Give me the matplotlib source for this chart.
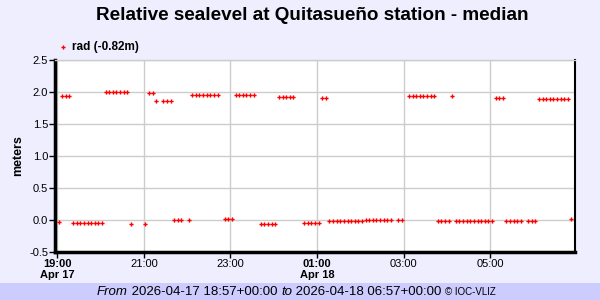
import matplotlib.pyplot as plt
import matplotlib.dates as mdates
from matplotlib.lines import Line2D
from matplotlib.patches import Rectangle
import numpy as np
from datetime import datetime, timedelta

plt.rcParams['font.family'] = ['Liberation Sans', 'DejaVu Sans']

# data: minutes after 2026-04-17 18:57 UTC and sea level (m)
start = datetime(2026, 4, 17, 18, 57)
end = datetime(2026, 4, 18, 6, 57)

minutes = [5, 10, 15, 20,
           25, 30, 35, 40, 45, 50, 55, 60, 65,
           70, 75, 80, 85, 90, 95, 100,
           105, 125, 130, 135, 140, 150, 155, 160,
           165, 170, 175, 185,
           190, 195, 200, 205, 210, 215, 220, 225,
           235, 240, 245,
           250, 255, 260, 265, 270, 275,
           285, 290, 295, 300, 305,
           310, 315, 320, 325, 330,
           345, 350, 355, 360, 365,
           370, 375,
           380, 385, 390, 395, 400, 405, 410, 415, 420, 425,
           430, 435, 440, 445, 450, 455, 460, 465,
           475, 480,
           490, 495, 500, 505, 510, 515, 520, 525,
           530, 535, 540, 545,
           550,
           555, 560, 565, 570, 575, 580, 585, 590, 595, 600, 605,
           610, 615, 620,
           625, 630, 635, 640, 645,
           655, 660, 665,
           670, 675, 680, 685, 690, 695, 700, 705, 710,
           715]
level = [-0.03, 1.94, 1.94, 1.94,
         -0.05, -0.05, -0.05, -0.05, -0.05, -0.05, -0.05, -0.05, -0.05,
         2.00, 2.00, 2.00, 2.00, 2.00, 2.00, 2.00,
         -0.06, -0.06, 1.98, 1.98, 1.86, 1.86, 1.86, 1.86,
         0.00, 0.00, 0.00, 0.00,
         1.95, 1.95, 1.95, 1.95, 1.95, 1.95, 1.95, 1.95,
         0.02, 0.02, 0.02,
         1.95, 1.95, 1.95, 1.95, 1.95, 1.95,
         -0.06, -0.06, -0.06, -0.06, -0.06,
         1.92, 1.92, 1.92, 1.92, 1.92,
         -0.05, -0.05, -0.05, -0.05, -0.05,
         1.91, 1.91,
         -0.02, -0.02, -0.02, -0.02, -0.02, -0.02, -0.02, -0.02, -0.02, -0.02,
         0.00, 0.00, 0.00, 0.00, 0.00, 0.00, 0.00, 0.00,
         0.00, 0.00,
         1.94, 1.94, 1.94, 1.94, 1.94, 1.94, 1.94, 1.94,
         -0.02, -0.02, -0.02, -0.02,
         1.94,
         -0.02, -0.02, -0.02, -0.02, -0.02, -0.02, -0.02, -0.02, -0.02, -0.02, -0.02,
         1.91, 1.91, 1.91,
         -0.02, -0.02, -0.02, -0.02, -0.02,
         -0.02, -0.02, -0.02,
         1.89, 1.89, 1.89, 1.89, 1.89, 1.89, 1.89, 1.89, 1.89,
         0.02]

tick_hours = [(17, 19), (17, 21), (17, 23), (18, 1), (18, 3), (18, 5)]
tick_labels = ['19:00\nApr 17', '21:00', '23:00', '01:00\nApr 18', '03:00', '05:00']
yticks = [-0.5, 0.0, 0.5, 1.0, 1.5, 2.0, 2.5]

times = [start + timedelta(minutes=m) for m in minutes]

fig = plt.figure(figsize=(6, 3), dpi=100, facecolor='#eeeeff')
fig.add_artist(Rectangle((0, 0), 1, 17 / 300, transform=fig.transFigure,
                         facecolor='#ccccff', edgecolor='none', zorder=0))

ax = fig.add_axes([55 / 600, 48 / 300, 520 / 600, 192 / 300])
ax.set_facecolor('white')
ax.plot(times, level, ls='none', marker='P', ms=3, color='red', mec='none', zorder=3)

ax.set_xlim(start, end)
ax.set_ylim(-0.5, 2.5)
ax.set_yticks(yticks)
ax.set_yticklabels(['%.1f' % v for v in yticks], fontsize=8)
ax.set_xticks([datetime(2026, 4, d, h) for d, h in tick_hours])
ax.set_xticklabels(tick_labels, fontsize=8, linespacing=1.1, va='top')
for i, lab in enumerate(ax.get_xticklabels()):
    if i in (0, 3):
        lab.set_fontweight('bold')
ax.tick_params(length=4, width=1, pad=1, colors='black')
ax.grid(color='#cccccc', lw=1)
ax.set_axisbelow(True)

ax.spines['left'].set_linewidth(2.5)
ax.spines['bottom'].set_linewidth(2.5)
ax.spines['right'].set_linewidth(1.5)
ax.spines['top'].set_linewidth(1)
ax.spines['top'].set_color('#cccccc')

ax.set_ylabel('meters', fontsize=9, fontweight='bold')
ax.yaxis.set_label_coords(-(55 - 24) / 520, 0.5)

fig.text(0.52, 1 - 15 / 300, 'Relative sealevel at Quitasueño station - median',
         ha='center', va='center', fontsize=13.6, fontweight='bold')

# legend
fig.add_artist(Line2D([63 / 600], [1 - 47 / 300], marker='P', ms=3, color='red',
                      mec='none', ls='none', transform=fig.transFigure))
fig.text(72 / 600, 1 - 47 / 300, 'rad (-0.82m)', ha='left', va='center',
         fontsize=8.5, fontweight='bold')

# footer
t1 = fig.text(97 / 600, 8 / 300, 'From', fontsize=9.5, style='italic', ha='left', va='center')
t2 = ax.annotate(' 2026-04-17 18:57+00:00 ', xy=(1, 0.5), xycoords=t1, va='center',
                 ha='left', fontsize=9.5, annotation_clip=False)
t3 = ax.annotate('to', xy=(1, 0.5), xycoords=t2, va='center', ha='left',
                 fontsize=9.5, style='italic', annotation_clip=False)
t4 = ax.annotate(' 2026-04-18 06:57+00:00 ', xy=(1, 0.5), xycoords=t3, va='center',
                 ha='left', fontsize=9.5, annotation_clip=False)
ax.annotate('© IOC-VLIZ', xy=(1, 0.5), xycoords=t4, va='center', ha='left',
            fontsize=7, annotation_clip=False)

plt.savefig('out.png', dpi=100, facecolor=fig.get_facecolor())
